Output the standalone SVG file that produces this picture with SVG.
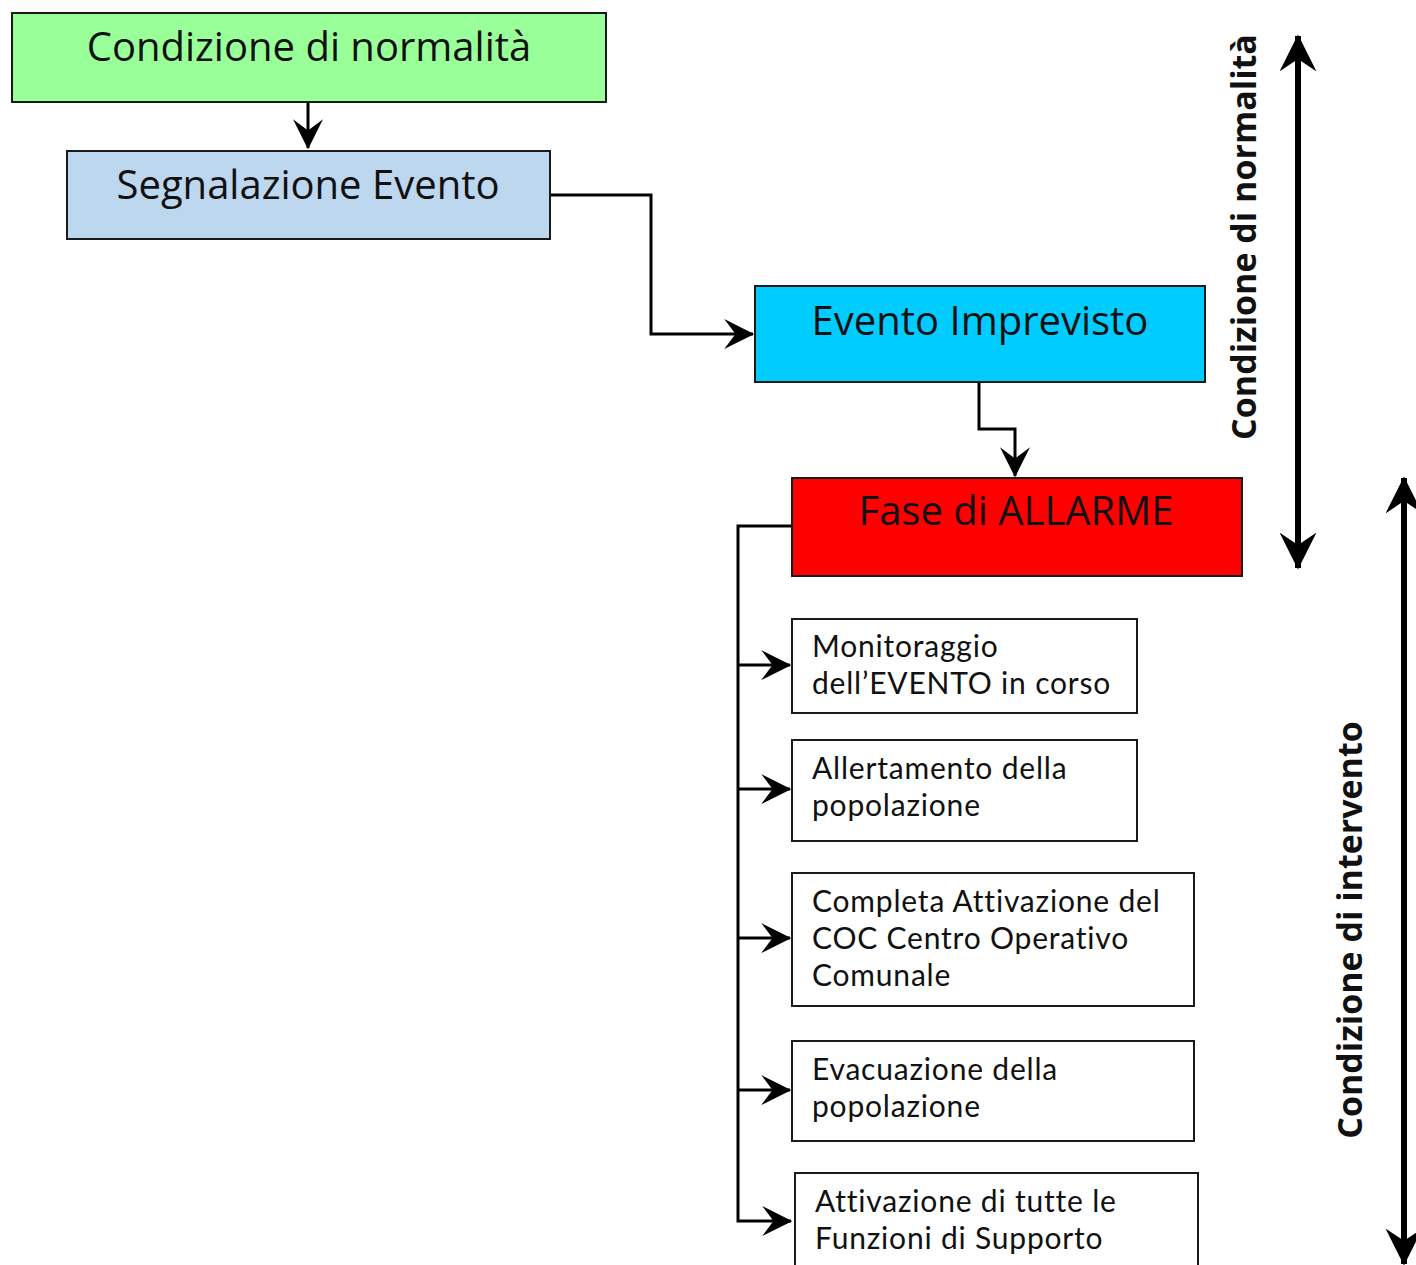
<svg xmlns="http://www.w3.org/2000/svg" width="1416" height="1265" viewBox="0 0 1416 1265">
<defs>
<style>
.box{stroke:#1a1a1a;stroke-width:2}
.big{font-family:"Open Sans","Liberation Sans",sans-serif;font-size:40px;fill:#111;text-anchor:middle}
.small{font-family:Lato,"Open Sans","Liberation Sans",sans-serif;font-size:30px;letter-spacing:0.8px;fill:#111}
.side{font-family:"Open Sans","Liberation Sans",sans-serif;font-size:34px;font-weight:bold;fill:#111;text-anchor:middle}
.conn{fill:none;stroke:#000;stroke-width:3}
.thick{fill:none;stroke:#000;stroke-width:6}
</style>
<marker id="ahs" viewBox="0 0 12 12" refX="11.5" refY="6" markerWidth="30" markerHeight="30" markerUnits="userSpaceOnUse" orient="auto">
<path d="M0,0 L12,6 L0,12 L4.5,6 Z" fill="#000"/>
</marker>
<marker id="ahb" viewBox="0 0 12 12" refX="11.5" refY="6" markerWidth="37" markerHeight="37" markerUnits="userSpaceOnUse" orient="auto-start-reverse">
<path d="M0,0 L12,6 L0,12 L4,6 Z" fill="#000"/>
</marker>
</defs>
<rect width="1416" height="1265" fill="#fff"/>
<g id="connectors">
<path class="conn" d="M308,102 V148" marker-end="url(#ahs)"/>
<path class="conn" d="M550,195 H651 V334 H753" marker-end="url(#ahs)"/>
<path class="conn" d="M979,382 V429 H1015 V476" marker-end="url(#ahs)"/>
<path class="conn" d="M792,526 H738 V1221 H791" marker-end="url(#ahs)"/>
<path class="conn" d="M738,665 H790" marker-end="url(#ahs)"/>
<path class="conn" d="M738,789 H790" marker-end="url(#ahs)"/>
<path class="conn" d="M738,938 H790" marker-end="url(#ahs)"/>
<path class="conn" d="M738,1090 H790" marker-end="url(#ahs)"/>
<path class="thick" d="M1298,36 V568" marker-start="url(#ahb)" marker-end="url(#ahb)"/>
<path class="thick" d="M1404,478 V1264" marker-start="url(#ahb)" marker-end="url(#ahb)"/>
</g>
<g id="n1"><rect class="box" x="12" y="13" width="594" height="89" fill="#99FF99"/><text class="big" x="309" y="61">Condizione di normalità</text></g>
<g id="n2"><rect class="box" x="67" y="151" width="483" height="88" fill="#BDD7EE"/><text class="big" x="308" y="199">Segnalazione Evento</text></g>
<g id="n3"><rect class="box" x="755" y="286" width="450" height="96" fill="#00CCFF"/><text class="big" x="980" y="335">Evento Imprevisto</text></g>
<g id="n4"><rect class="box" x="792" y="478" width="450" height="98" fill="#FF0000"/><text class="big" x="1016" y="525">Fase di ALLARME</text></g>
<g id="n5"><rect class="box" x="792" y="619" width="345" height="94" fill="#fff"/><text class="small" x="812" y="657">Monitoraggio<tspan x="812" dy="37">dell’EVENTO in corso</tspan></text></g>
<g id="n6"><rect class="box" x="792" y="740" width="345" height="101" fill="#fff"/><text class="small" x="812" y="779">Allertamento della<tspan x="812" dy="37">popolazione</tspan></text></g>
<g id="n7"><rect class="box" x="792" y="873" width="402" height="133" fill="#fff"/><text class="small" x="812" y="912">Completa Attivazione del<tspan x="812" dy="37">COC Centro Operativo</tspan><tspan x="812" dy="37">Comunale</tspan></text></g>
<g id="n8"><rect class="box" x="792" y="1041" width="402" height="100" fill="#fff"/><text class="small" x="812" y="1080">Evacuazione della<tspan x="812" dy="37">popolazione</tspan></text></g>
<g id="n9"><rect class="box" x="795" y="1173" width="403" height="100" fill="#fff"/><text class="small" x="815" y="1212">Attivazione di tutte le<tspan x="815" dy="37">Funzioni di Supporto</tspan></text></g>
<g id="side1"><text class="side" transform="translate(1256,237) rotate(-90)">Condizione di normalità</text></g>
<g id="side2"><text class="side" transform="translate(1362,930) rotate(-90)">Condizione di intervento</text></g>
</svg>
